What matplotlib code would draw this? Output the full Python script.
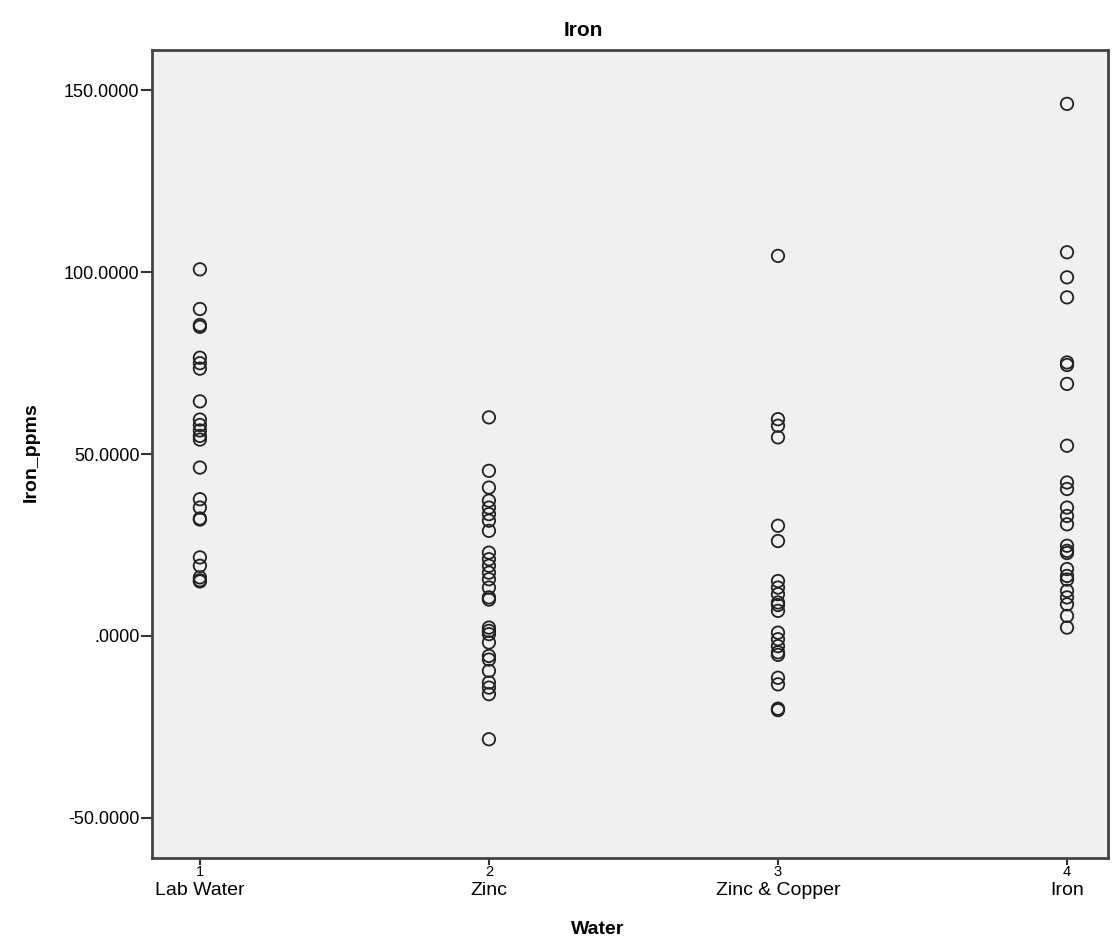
import numpy as np
import matplotlib.pyplot as plt

plt.rcParams['font.family'] = ['Liberation Sans', 'DejaVu Sans']

groups = ['Lab Water', 'Zinc', 'Zinc & Copper', 'Iron']
codes = [1, 2, 3, 4]

lab_water = [100.8, 89.9, 85.5, 85.0, 76.5, 75.0, 73.5, 64.5, 59.5, 58.0, 56.5,
             55.0, 54.0, 46.3, 37.6, 35.3, 32.3, 32.0, 21.6, 19.3, 16.1, 15.3, 15.0]
zinc = [60.1, 45.4, 40.8, 37.2, 35.3, 33.5, 31.7, 28.9, 22.9, 21.1, 19.3, 17.4,
        15.6, 13.3, 10.6, 10.0, 2.3, 1.4, 0.5, -1.8, -5.5, -6.5, -9.6, -12.8,
        -14.2, -16.0, -28.4]
zinc_copper = [104.5, 59.6, 57.8, 54.6, 30.3, 26.1, 15.1, 13.3, 11.5, 9.2, 8.5,
               6.9, 0.9, -0.9, -2.8, -4.5, -5.2, -11.5, -13.3, -20.0, -20.4]
iron = [146.3, 105.5, 98.6, 93.1, 75.2, 74.5, 69.3, 52.3, 42.2, 40.4, 35.3, 33.0,
        30.7, 24.8, 23.4, 22.8, 18.4, 16.5, 15.5, 12.4, 10.6, 8.7, 5.5, 2.3]

yticks = [-50, 0, 50, 100, 150]
ytick_labels = ['-50.0000', '.0000', '50.0000', '100.0000', '150.0000']

fig = plt.figure(figsize=(11.17, 9.51), dpi=100)
ax = fig.add_axes([0.136, 0.098, 0.856, 0.849])
ax.set_facecolor('#f0f0f0')

for code, vals in zip(codes, [lab_water, zinc, zinc_copper, iron]):
    ax.scatter(np.full(len(vals), code), vals, s=80, facecolors='none',
               edgecolors='#222222', linewidths=1.3, zorder=3)

ax.set_xlim(0.834, 4.142)
ax.set_ylim(-61, 161)
ax.set_yticks(yticks)
ax.set_yticklabels(ytick_labels, fontsize=13)
ax.set_xticks(codes)
ax.set_xticklabels([str(c) for c in codes], fontsize=10.5)
ax.tick_params(axis='x', direction='out', length=5, width=1.5, color='#333333', pad=0)
ax.tick_params(axis='y', direction='out', length=8, width=1.5, color='#333333', pad=1)

for spine in ax.spines.values():
    spine.set_color('#444444')
    spine.set_linewidth(2)

for code, name in zip(codes, groups):
    ax.text(code, -0.03, name, transform=ax.get_xaxis_transform(),
            ha='center', va='top', fontsize=14)

fig.text(598 / 1117, 1 - 930 / 951, 'Water', ha='center', va='center',
         fontsize=14, fontweight='bold')
fig.text(31 / 1117, 1 - 452 / 951, 'Iron_ppms', ha='center', va='center',
         rotation=90, fontsize=14, fontweight='bold')
fig.text(583 / 1117, 1 - 30 / 951, 'Iron', ha='center', va='center',
         fontsize=15, fontweight='bold')

fig.savefig('out.png', dpi=100, facecolor='white')
